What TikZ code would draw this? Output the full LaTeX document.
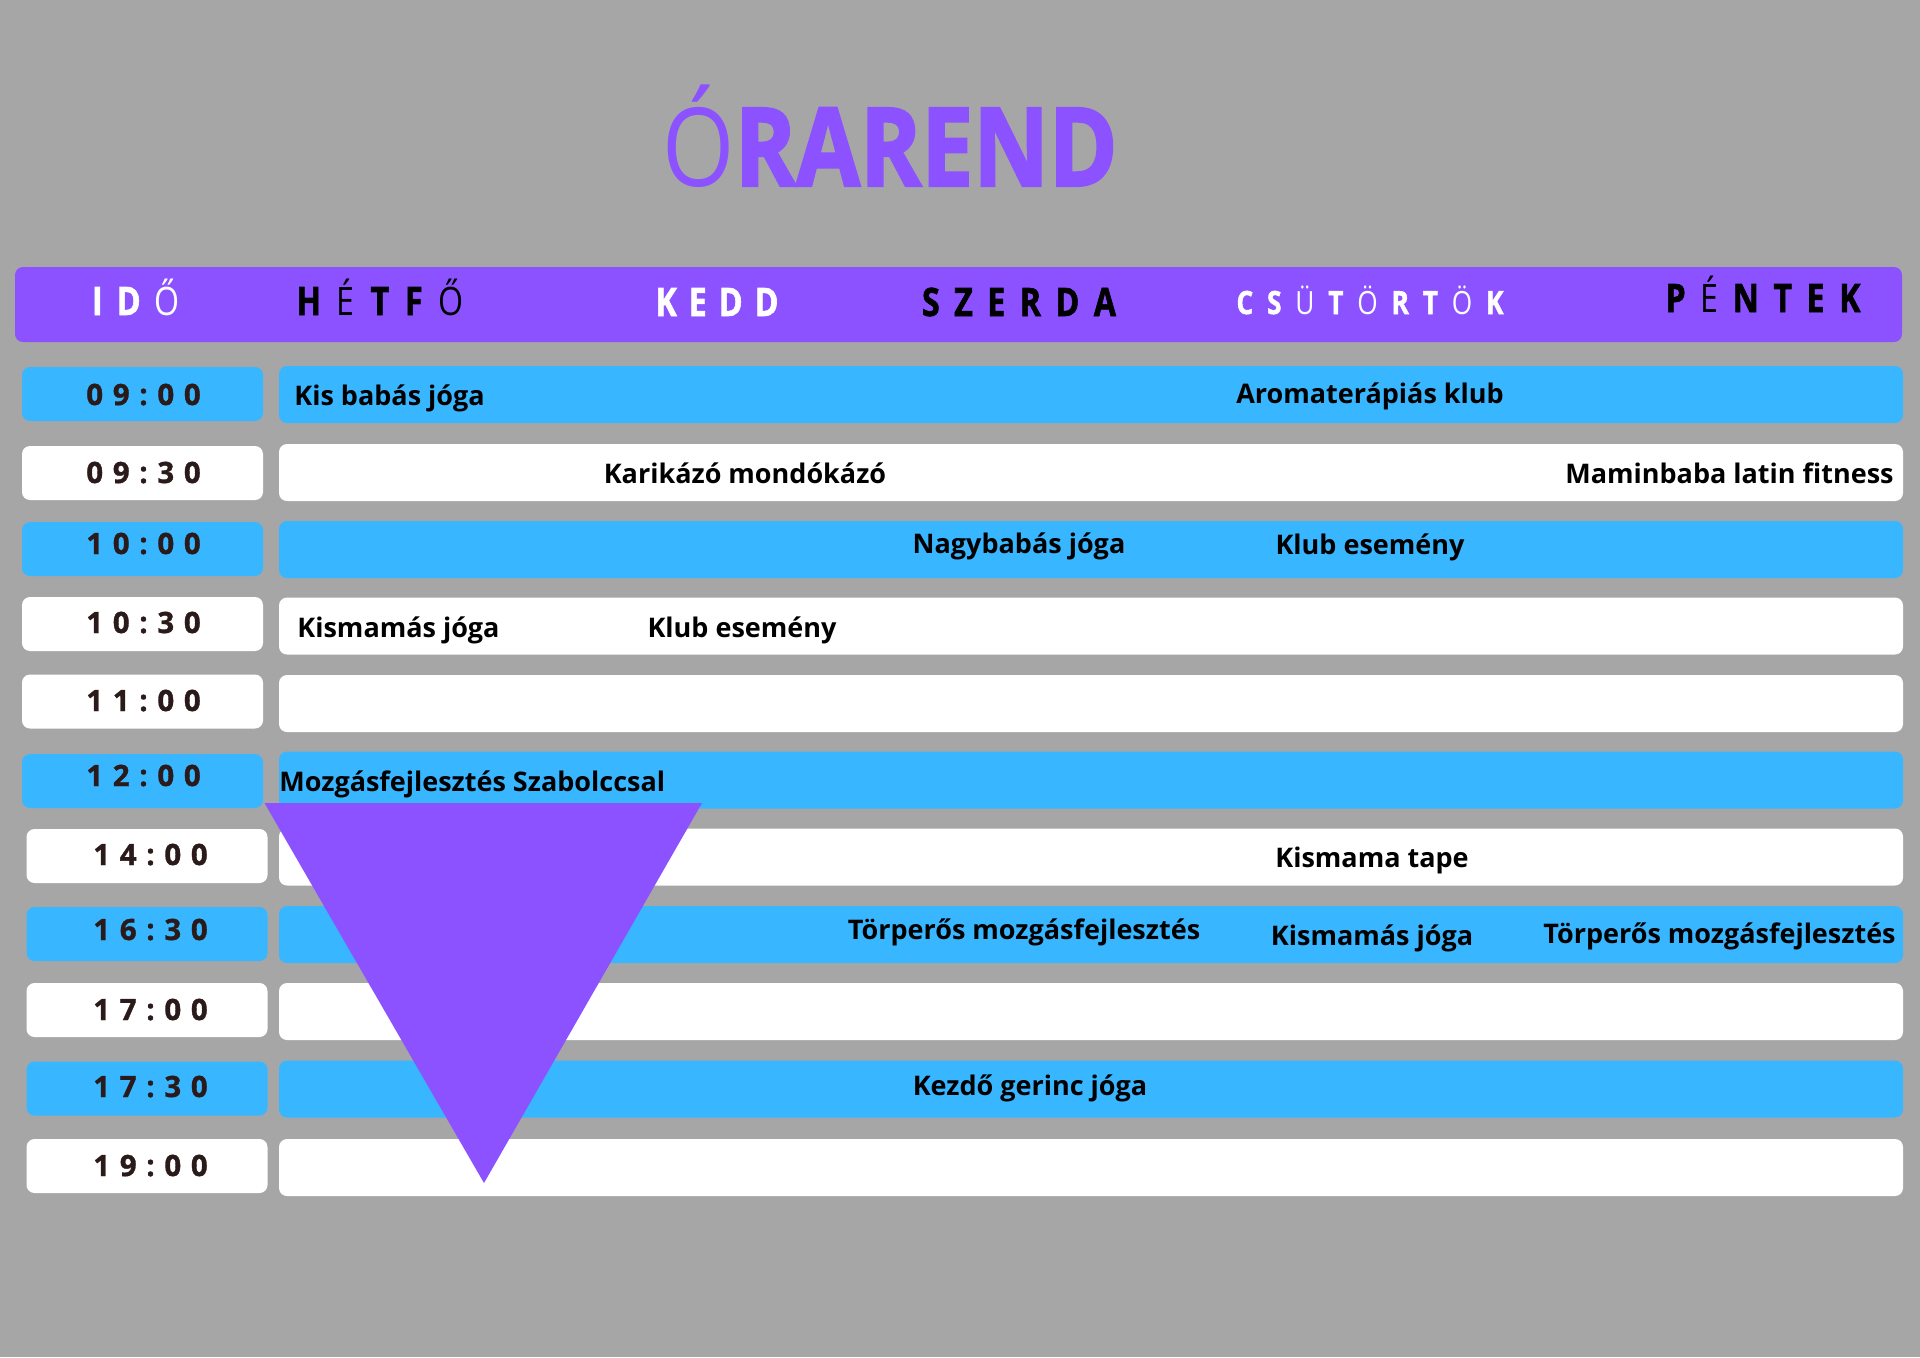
\documentclass[tikz,border=0pt]{standalone}
\usepackage{fontspec}
\setmainfont{Open Sans}
\newfontfamily\hdfont[FakeStretch=0.82,BoldFeatures={FakeBold=1.5}]{Open Sans}
\newfontfamily\tmfont[FakeStretch=1.0,LetterSpace=33,BoldFeatures={FakeBold=1.2}]{Open Sans}
\newfontfamily\ttlfont[FakeStretch=0.85,BoldFeatures={FakeBold=2}]{Open Sans}
\definecolor{bggray}{HTML}{A6A6A6}
\definecolor{purp}{HTML}{8C52FF}
\definecolor{skyb}{HTML}{38B6FF}
\definecolor{tmtext}{HTML}{2B1A1A}
\newcommand\spreadto[2]{\makebox[#1][s]{#2}}
\newcommand\lt[1]{{\mdseries #1}}
\tikzset{
  tbox/.style={rectangle, rounded corners=4pt, inner sep=0pt, minimum width=120.5pt, minimum height=27pt, fill=#1},
  cbox/.style={rectangle, rounded corners=4pt, inner sep=0pt, minimum width=812pt, minimum height=28.5pt, fill=#1},
  hd/.style={anchor=base, inner sep=0pt, font=\hdfont\bfseries\fontsize{19.6pt}{20pt}\selectfont},
  tm/.style={anchor=base, inner sep=0pt, text=tmtext, font=\tmfont\bfseries\fontsize{14.7pt}{15pt}\selectfont},
  ev/.style={inner sep=0pt, text=black, font=\bfseries\fontsize{13.5pt}{14pt}\selectfont},
}
\begin{document}
\begin{tikzpicture}[x=0.5pt,y=-0.5pt]
\fill[bggray] (0,0) rectangle (1920,1357);
\useasboundingbox (0,0) rectangle (1920,1357);
% title
\node[anchor=base, inner sep=0pt, text=purp, font=\ttlfont\bfseries\fontsize{54.6pt}{56pt}\selectfont] (title) at (890,186) {\lt{Ó}RAREND};
% header bar
\node[rectangle, rounded corners=4pt, fill=purp, inner sep=0pt, minimum width=943.5pt, minimum height=37.5pt] (bar) at (958.5,304.5) {};
\node[hd, text=white] (h0) at (136,315) {\spreadto{44pt}{I\hfill D\hfill\lt{Ő}}};
\node[hd, text=black] (h1) at (380,315) {\spreadto{83.5pt}{H\hfill\lt{É}\hfill T\hfill F\hfill\lt{Ő}}};
\node[hd, text=white] (h2) at (717,316) {\spreadto{61.5pt}{K\hfill E\hfill D\hfill D}};
\node[hd, text=black] (h3) at (1019,316) {\spreadto{97pt}{S\hfill Z\hfill E\hfill R\hfill D\hfill A}};
\node[hd, text=white, font=\hdfont\bfseries\fontsize{16pt}{17pt}\selectfont] (h4) at (1370,314) {\spreadto{133.5pt}{C\hfill S\hfill\lt{Ü}\hfill T\hfill\lt{Ö}\hfill R\hfill T\hfill\lt{Ö}\hfill K}};
\node[hd, text=black] (h5) at (1763,312) {\spreadto{97.5pt}{P\hfill\lt{É}\hfill N\hfill T\hfill E\hfill K}};
% time boxes
\node[tbox=skyb]  (t1)  at (142.5,394)  {};
\node[tbox=white] (t2)  at (142.5,473)  {};
\node[tbox=skyb]  (t3)  at (142.5,549)  {};
\node[tbox=white] (t4)  at (142.5,624)  {};
\node[tbox=white] (t5)  at (142.5,701.5) {};
\node[tbox=skyb]  (t6)  at (142.5,781)  {};
\node[tbox=white] (t7)  at (147,856)    {};
\node[tbox=skyb]  (t8)  at (147,934)    {};
\node[tbox=white] (t9)  at (147,1010)   {};
\node[tbox=skyb]  (t10) at (147,1088.5) {};
\node[tbox=white] (t11) at (147,1166)   {};
% content boxes
\node[cbox=skyb]  (c1)  at (1091,394.5)  {};
\node[cbox=white] (c2)  at (1091,472.5)  {};
\node[cbox=skyb]  (c3)  at (1091,549.5)  {};
\node[cbox=white] (c4)  at (1091,626)    {};
\node[cbox=white] (c5)  at (1091,703.5)  {};
\node[cbox=skyb]  (c6)  at (1091,780)    {};
\node[cbox=white] (c7)  at (1091,857)    {};
\node[cbox=skyb]  (c8)  at (1091,934.5)  {};
\node[cbox=white] (c9)  at (1091,1011.5) {};
\node[cbox=skyb]  (c10) at (1091,1089)   {};
\node[cbox=white] (c11) at (1091,1167.5) {};
% times
\node[tm] (l1)  at (143.5,405)  {09:00};
\node[tm] (l2)  at (143.5,483)  {09:30};
\node[tm] (l3)  at (143.5,554)  {10:00};
\node[tm] (l4)  at (143.5,633)  {10:30};
\node[tm] (l5)  at (143.5,711)  {11:00};
\node[tm] (l6)  at (143.5,786)  {12:00};
\node[tm] (l7)  at (150.5,865)  {14:00};
\node[tm] (l8)  at (150.5,940)  {16:30};
\node[tm] (l9)  at (150.5,1020) {17:00};
\node[tm] (l10) at (150.5,1097) {17:30};
\node[tm] (l11) at (150.5,1176) {19:00};
% events
\node[ev, anchor=base west] (e1a) at (294,405) {Kis babás jóga};
\node[ev, anchor=base] (e1b) at (1370,403) {Aromaterápiás klub};
\node[ev, anchor=base] (e2a) at (745,483) {Karikázó mondókázó};
\node[ev, anchor=base east] (e2b) at (1894,483) {Maminbaba latin fitness};
\node[ev, anchor=base] (e3a) at (1019,553) {Nagybabás jóga};
\node[ev, anchor=base] (e3b) at (1370,554) {Klub esemény};
\node[ev, anchor=base west] (e4a) at (297,637) {Kismamás jóga};
\node[ev, anchor=base] (e4b) at (742,637) {Klub esemény};
\node[ev, anchor=base west] (e6a) at (279,791) {Mozgásfejlesztés Szabolccsal};
\node[ev, anchor=base] (e7a) at (1372,867) {Kismama tape};
\node[ev, anchor=base] (e8a) at (1024,939) {Törperős mozgásfejlesztés};
\node[ev, anchor=base] (e8b) at (1372,945) {Kismamás jóga};
\node[ev, anchor=base east] (e8c) at (1896,943) {Törperős mozgásfejlesztés};
\node[ev, anchor=base] (e10a) at (1030,1095) {Kezdő gerinc jóga};
% triangle
\fill[purp] (264.5,803) -- (702,803) -- (484,1183) -- cycle;
\end{tikzpicture}
\end{document}
